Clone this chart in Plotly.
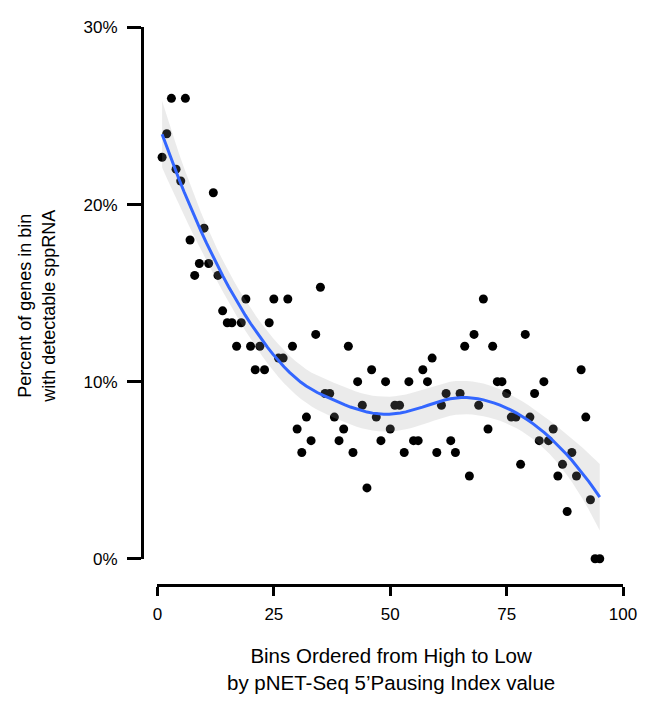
import numpy as np
import plotly.graph_objects as go

# Bins ordered by pNET-Seq 5' pausing index (high -> low)
bins = list(range(1, 96))

# Percent of genes in each bin with detectable sppRNA
pct = [
    22.67, 24.00, 26.00, 22.00, 21.33, 26.00, 18.00, 16.00, 16.67, 18.67,
    16.67, 20.67, 16.00, 14.00, 13.33, 13.33, 12.00, 13.33, 14.67, 12.00,
    10.67, 12.00, 10.67, 13.33, 14.67, 11.33, 11.33, 14.67, 12.00, 7.33,
    6.00, 8.00, 6.67, 12.67, 15.33, 9.33, 9.33, 8.00, 6.67, 7.33,
    12.00, 6.00, 10.00, 8.67, 4.00, 10.67, 8.00, 6.67, 10.00, 7.33,
    8.67, 8.67, 6.00, 10.00, 6.67, 6.67, 10.67, 10.00, 11.33, 6.00,
    8.67, 9.33, 6.67, 6.00, 9.33, 12.00, 4.67, 12.67, 8.67, 14.67,
    7.33, 12.00, 10.00, 10.00, 9.33, 8.00, 8.00, 5.33, 12.67, 8.00,
    9.33, 6.67, 10.00, 6.67, 7.33, 4.67, 5.33, 2.67, 6.00, 4.67,
    10.67, 8.00, 3.33, 0.00, 0.00,
]

x_ticks = [0, 25, 50, 75, 100]
y_ticks = [0, 10, 20, 30]
y_tick_labels = ["0%", "10%", "20%", "30%"]


def loess_weights(x, x0, span=0.75):
    """Local quadratic (tricube-weighted) smoother row for point x0."""
    n = len(x)
    q = int(np.floor(n * span))
    d = np.abs(x - x0)
    h = np.sort(d)[q - 1]
    u = d / h
    w = np.where(u < 1, (1 - u ** 3) ** 3, 0.0)
    X = np.column_stack([np.ones(n), x - x0, (x - x0) ** 2])
    XtW = X.T * w
    return np.linalg.solve(XtW @ X, XtW)[0]


def t_quantile_975(df):
    # Cornish-Fisher expansion of the Student t 97.5% quantile
    z = 1.959963984540054
    g1 = (z ** 3 + z) / 4
    g2 = (5 * z ** 5 + 16 * z ** 3 + 3 * z) / 96
    g3 = (3 * z ** 7 + 19 * z ** 5 + 17 * z ** 3 - 15 * z) / 384
    return z + g1 / df + g2 / df ** 2 + g3 / df ** 3


xv = np.array(bins, dtype=float)
yv = np.array(pct, dtype=float)
n = len(xv)

# Smoother matrix at the observations -> residual scale and df
L = np.array([loess_weights(xv, xi) for xi in xv])
res = yv - L @ yv
IL = np.eye(n) - L
M = IL.T @ IL
one_delta = np.trace(M)
two_delta = np.trace(M @ M)
sigma = np.sqrt(np.sum(res ** 2) / one_delta)
tq = t_quantile_975(one_delta ** 2 / two_delta)

grid = np.linspace(xv.min(), xv.max(), 80)
rows = np.array([loess_weights(xv, g) for g in grid])
fit = rows @ yv
se = sigma * np.sqrt(np.sum(rows ** 2, axis=1))
upper = fit + tq * se
lower = fit - tq * se

W, H = 655, 704
FONT = "Liberation Sans, Arial, Helvetica, sans-serif"

fig = go.Figure()

fig.add_trace(go.Scatter(
    x=bins, y=pct, mode="markers",
    marker=dict(color="black", size=9, line=dict(width=0)),
    cliponaxis=False, hoverinfo="x+y", showlegend=False,
))

fig.add_trace(go.Scatter(
    x=np.concatenate([grid, grid[::-1]]),
    y=np.concatenate([upper, lower[::-1]]),
    mode="lines", fill="toself",
    fillcolor="rgba(153,153,153,0.2)", line=dict(width=0),
    hoverinfo="skip", showlegend=False,
))

fig.add_trace(go.Scatter(
    x=grid, y=fit, mode="lines",
    line=dict(color="#3366FF", width=3),
    hoverinfo="skip", showlegend=False,
))

axis_common = dict(
    showline=True, linecolor="black", linewidth=3,
    ticks="outside", tickcolor="black", tickwidth=3,
    showgrid=False, zeroline=False,
    tickfont=dict(family=FONT, size=17, color="black"),
)

fig.update_layout(
    width=W, height=H,
    margin=dict(l=0, r=0, t=0, b=0),
    paper_bgcolor="white", plot_bgcolor="white",
    font=dict(family=FONT, color="black"),
    xaxis=dict(
        domain=[157 / W, 636.5 / W], range=[0, 100],
        anchor="free", position=1 - 592 / H,
        tickvals=x_ticks, ticklen=9, ticklabelstandoff=4,
        **axis_common,
    ),
    yaxis=dict(
        domain=[1 - 565 / H, 1 - 19 / H], range=[0, 30],
        anchor="free", position=141 / W,
        tickvals=y_ticks, ticktext=y_tick_labels, ticklen=14,
        ticklabelstandoff=6,
        **axis_common,
    ),
    annotations=[
        dict(
            text="Bins Ordered from High to Low<br>by pNET-Seq 5’Pausing Index value",
            x=398 / W, y=1 - 678 / H, xref="paper", yref="paper",
            xanchor="center", yanchor="middle", showarrow=False,
            font=dict(family=FONT, size=20.5, color="black"),
        ),
        dict(
            text="Percent of genes in bin<br>with detectable sppRNA",
            x=33 / W, y=1 - 306 / H, xref="paper", yref="paper",
            xanchor="center", yanchor="middle", showarrow=False,
            textangle=-90,
            font=dict(family=FONT, size=18, color="black"),
        ),
    ],
)

fig.write_html("out.html")
